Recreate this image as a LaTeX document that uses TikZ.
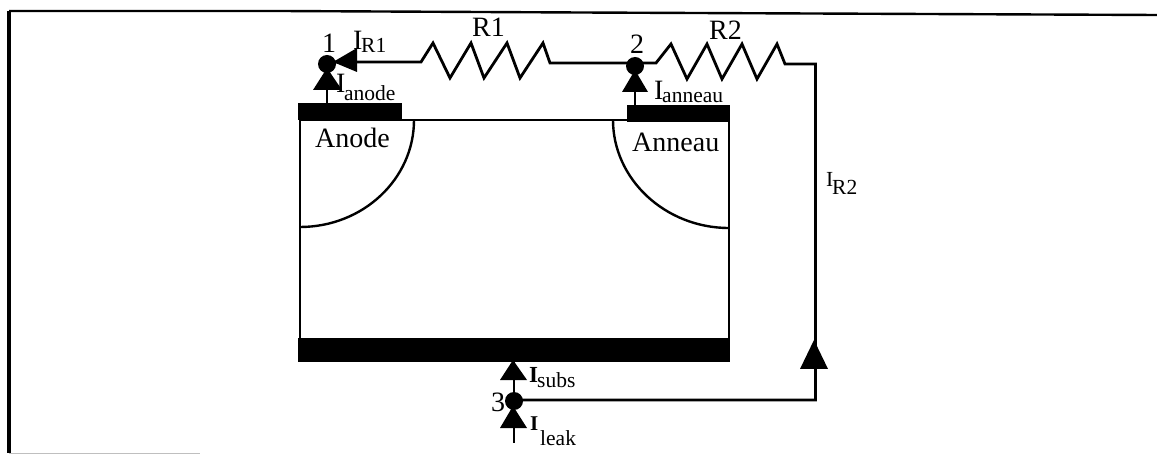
\documentclass[tikz,border=0pt]{standalone}
\usepackage{fontspec}
\setmainfont{Liberation Serif}
\begin{document}
\begin{tikzpicture}[x=1pt,y=-1pt,
  wire/.style={line width=2.8pt,line join=miter},
  body/.style={line width=2.8pt},
  arcline/.style={line width=2.4pt},
  pad/.style={fill=black,draw=none,inner sep=0pt,outer sep=0pt},
  dotnode/.style={circle,fill=black,draw=none,minimum size=18pt,inner sep=0pt},
  head/.style={fill=black,draw=none},
  big/.style={font=\fontsize{28}{28}\selectfont,inner sep=0pt,anchor=base west},
  sub/.style={font=\fontsize{21.5}{21.5}\selectfont,inner sep=0pt,anchor=base west}]
\useasboundingbox (0,0) rectangle (1157,454);
% frame
\draw[line width=2.4pt] (1157,15) -- (580,12.5) -- (280,11) -- (9,11);
\draw[line width=3.2pt] (9,11) -- (9,453);
\draw[line width=1pt,black!25] (9,453) -- (200,453);
% device
\draw[body] (300,120) rectangle (729,340);
\node[pad,minimum width=104pt,minimum height=17pt,anchor=north west] (anodepad) at (298,103) {};
\node[pad,minimum width=103pt,minimum height=17pt,anchor=north west] (ringpad) at (627,105) {};
\node[pad,minimum width=432pt,minimum height=24pt,anchor=north west] (subpad) at (298,338) {};
\draw[arcline] (414,120) .. controls (414,179) and (363,227) .. (300,227);
\draw[arcline] (613,120) .. controls (613,179) and (665,228) .. (729,228);
% nodes
\node[dotnode] (n1) at (327,64) {};
\node[dotnode] (n2) at (635,66) {};
\node[dotnode] (n3) at (514,401) {};
\coordinate (j1) at (327,62);
\coordinate (j2) at (635,63);
\coordinate (j3) at (514,400);
\coordinate (corner) at (815.5,64);
\coordinate (cornerb) at (815.5,400);
\coordinate (leakend) at (514,443);
% wires
\draw[wire] (j1) -- (421,62) -- (433,43) -- (450,78) -- (471,43) -- (484,78) -- (507,43) -- (520,78) -- (543,43) -- (550,63) -- (j2);
\draw[wire] (j2) -- (656,63) -- (671,44) -- (687,79) -- (707,44) -- (722,79) -- (742,44) -- (757,79) -- (777,44) -- (785,64) -- (corner) -- (cornerb) -- (j3);
\draw[wire] (n1) -- (n1 |- anodepad.north);
\draw[wire] (n2) -- (n2 |- ringpad.north);
\draw[wire] (n3) -- (n3 |- subpad.south);
\draw[wire] (n3) -- (leakend);
% arrowheads
\fill[head] (327,68) -- (342,90) -- (313,90) -- cycle;
\fill[head] (333,62) -- (357,48) -- (357,72) -- cycle;
\fill[head] (635,70) -- (648,92) -- (622,92) -- cycle;
\fill[head] (513,360) -- (527,380) -- (500,380) -- cycle;
\fill[head] (513,406) -- (527,428) -- (500,428) -- cycle;
\fill[head] (814,340) -- (828,369) -- (800,369) -- cycle;
% labels
\node[big] (t1) at (322,53) {1};
\node[big] (t2) at (630,54) {2};
\node[big] (t3) at (491,411) {3};
\node[big] (tr1) at (472,37) {R1};
\node[big] (tr2) at (709,40) {R2};
\node[big] (tan) at (315,148) {Anode};
\node[big] (tri) at (632,152) {Anneau};
\node[big] (ir1) at (353,50) {I};
\node[sub] (ir1s) at (361,53) {R1};
\node[big] (ian) at (336,93) {I};
\node[sub] (ians) at (344,101) {anode};
\node[big] (irn) at (654,100) {I};
\node[sub] (irns) at (662,103) {anneau};
\node[sub] (ir2) at (826,187) {I};
\node[sub] (ir2s) at (832,195) {R2};
\node[font=\fontsize{23}{23}\bfseries\selectfont,inner sep=0pt,anchor=base west] (isu) at (529,382) {I};
\node[sub] (isus) at (537,388) {subs};
\node[font=\fontsize{21}{21}\bfseries\selectfont,inner sep=0pt,anchor=base west] (ile) at (530,430) {I};
\node[sub] (iles) at (540,445) {leak};
\end{tikzpicture}
\end{document}
